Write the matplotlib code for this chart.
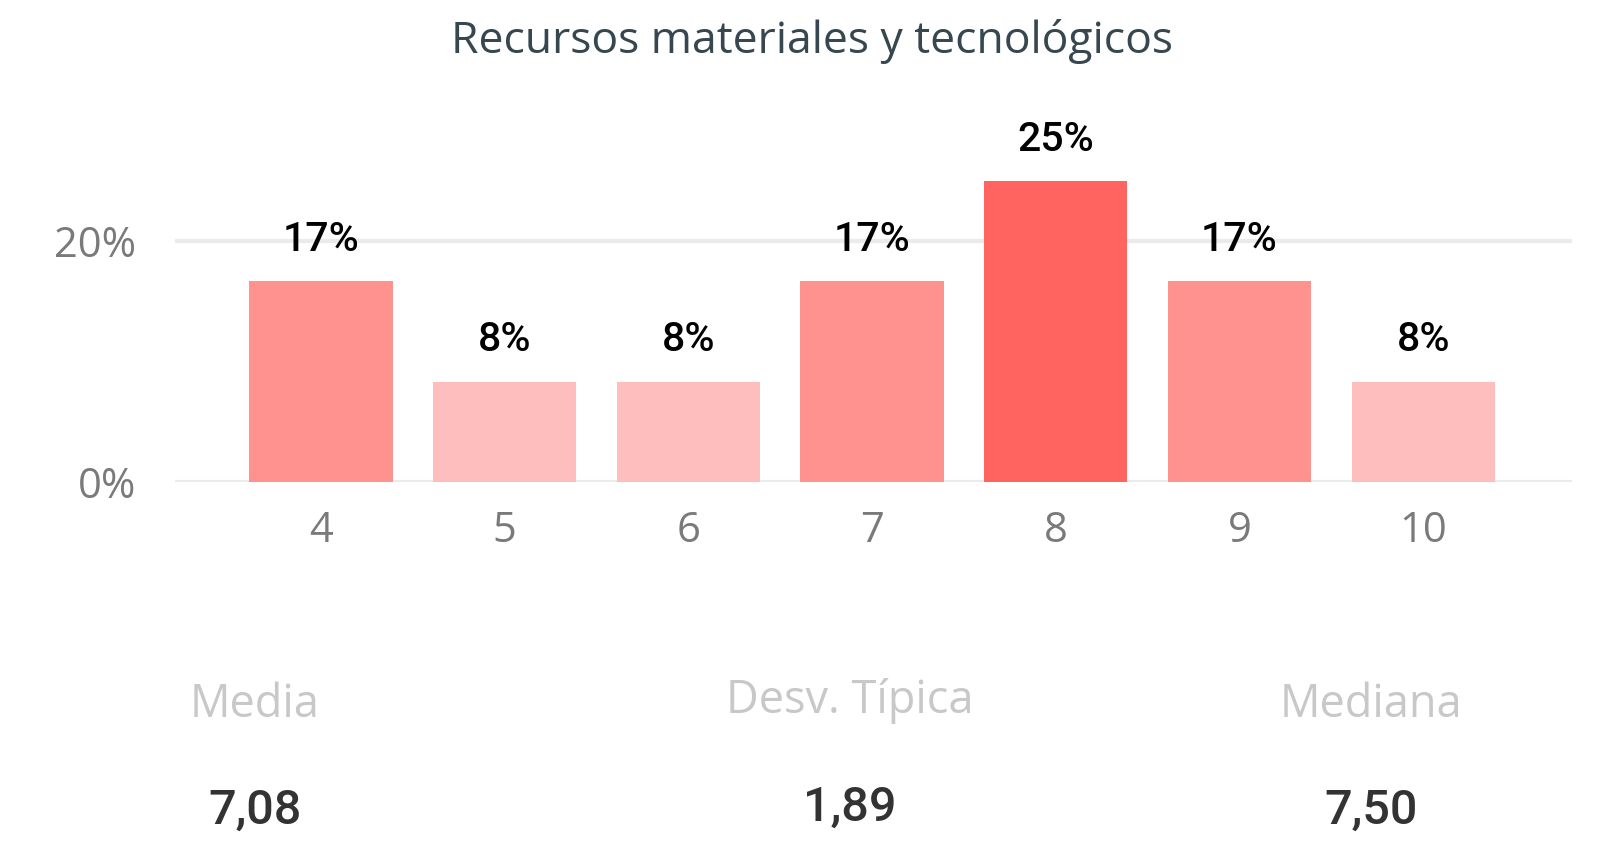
import matplotlib
matplotlib.use('Agg')
import matplotlib.pyplot as plt
from matplotlib.colors import LinearSegmentedColormap, Normalize


"""
Recursos materiales y tecnologicos - distribucion de puntuaciones
"""

# data
scores = ['4', '5', '6', '7', '8', '9', '10']
shares = [16.67, 8.33, 8.33, 16.67, 25.0, 16.67, 8.33]
stat_names = ['Media', 'Desv. Típica', 'Mediana']
stat_values = ['7,08', '1,89', '7,50']
title = 'Recursos materiales y tecnológicos'


if __name__ == '__main__':

    plt.rcParams['font.family'] = ['Open Sans', 'DejaVu Sans']

    fig = plt.figure(figsize=(15.98, 8.41), dpi=100)
    ax = fig.add_axes([0.1095, 0.4269, 0.8742, 0.4292])

    # colour scale from lightest (min) to darkest (max)
    cmap = LinearSegmentedColormap.from_list('reds', ['#FFBEBE', '#FF6461'])
    norm = Normalize(min(shares), max(shares))
    x = range(len(scores))
    ax.bar(x, shares, width=0.78, color=[cmap(norm(v)) for v in shares], zorder=2)

    for xi, v in zip(x, shares):
        ax.annotate(f'{round(v)}%', xy=(xi, v), xytext=(0, 22), textcoords='offset points',
                    ha='center', va='baseline', fontsize=29.5, fontweight='medium',
                    family='Roboto', color='black')

    ax.set_xlim(-0.795, 6.81)
    ax.set_ylim(0, 30)
    ax.set_xticks(list(x))
    ax.set_xticklabels(scores)
    ax.set_yticks([0, 20])
    ax.set_yticklabels(['0%', '20%'])
    ax.tick_params(length=0, labelsize=30, labelcolor='#7A7A7A')
    ax.tick_params(axis='y', pad=28)
    ax.tick_params(axis='x', pad=20)
    ax.yaxis.grid(True, color='#EBEBEB', lw=3)
    ax.set_axisbelow(True)
    for s in ax.spines.values():
        s.set_visible(False)

    fig.text(0.508, 1 - 42 / 841, title, ha='center', va='center', fontsize=32, color='#37474F')

    # summary stats
    xs = [255 / 1598, 850 / 1598, 1371 / 1598]
    name_y = [705, 701, 705]
    val_y = [811, 808, 811]
    for xf, ny, vy, name, val in zip(xs, name_y, val_y, stat_names, stat_values):
        fig.text(xf, 1 - ny / 841, name, ha='center', va='center', fontsize=32.5, color='#C8C8C8')
        fig.text(xf, 1 - vy / 841, val, ha='center', va='center', fontsize=35,
                 fontweight='medium', family='Roboto', color='#333333')

    plt.savefig('out.png', dpi=100)
    plt.close()
